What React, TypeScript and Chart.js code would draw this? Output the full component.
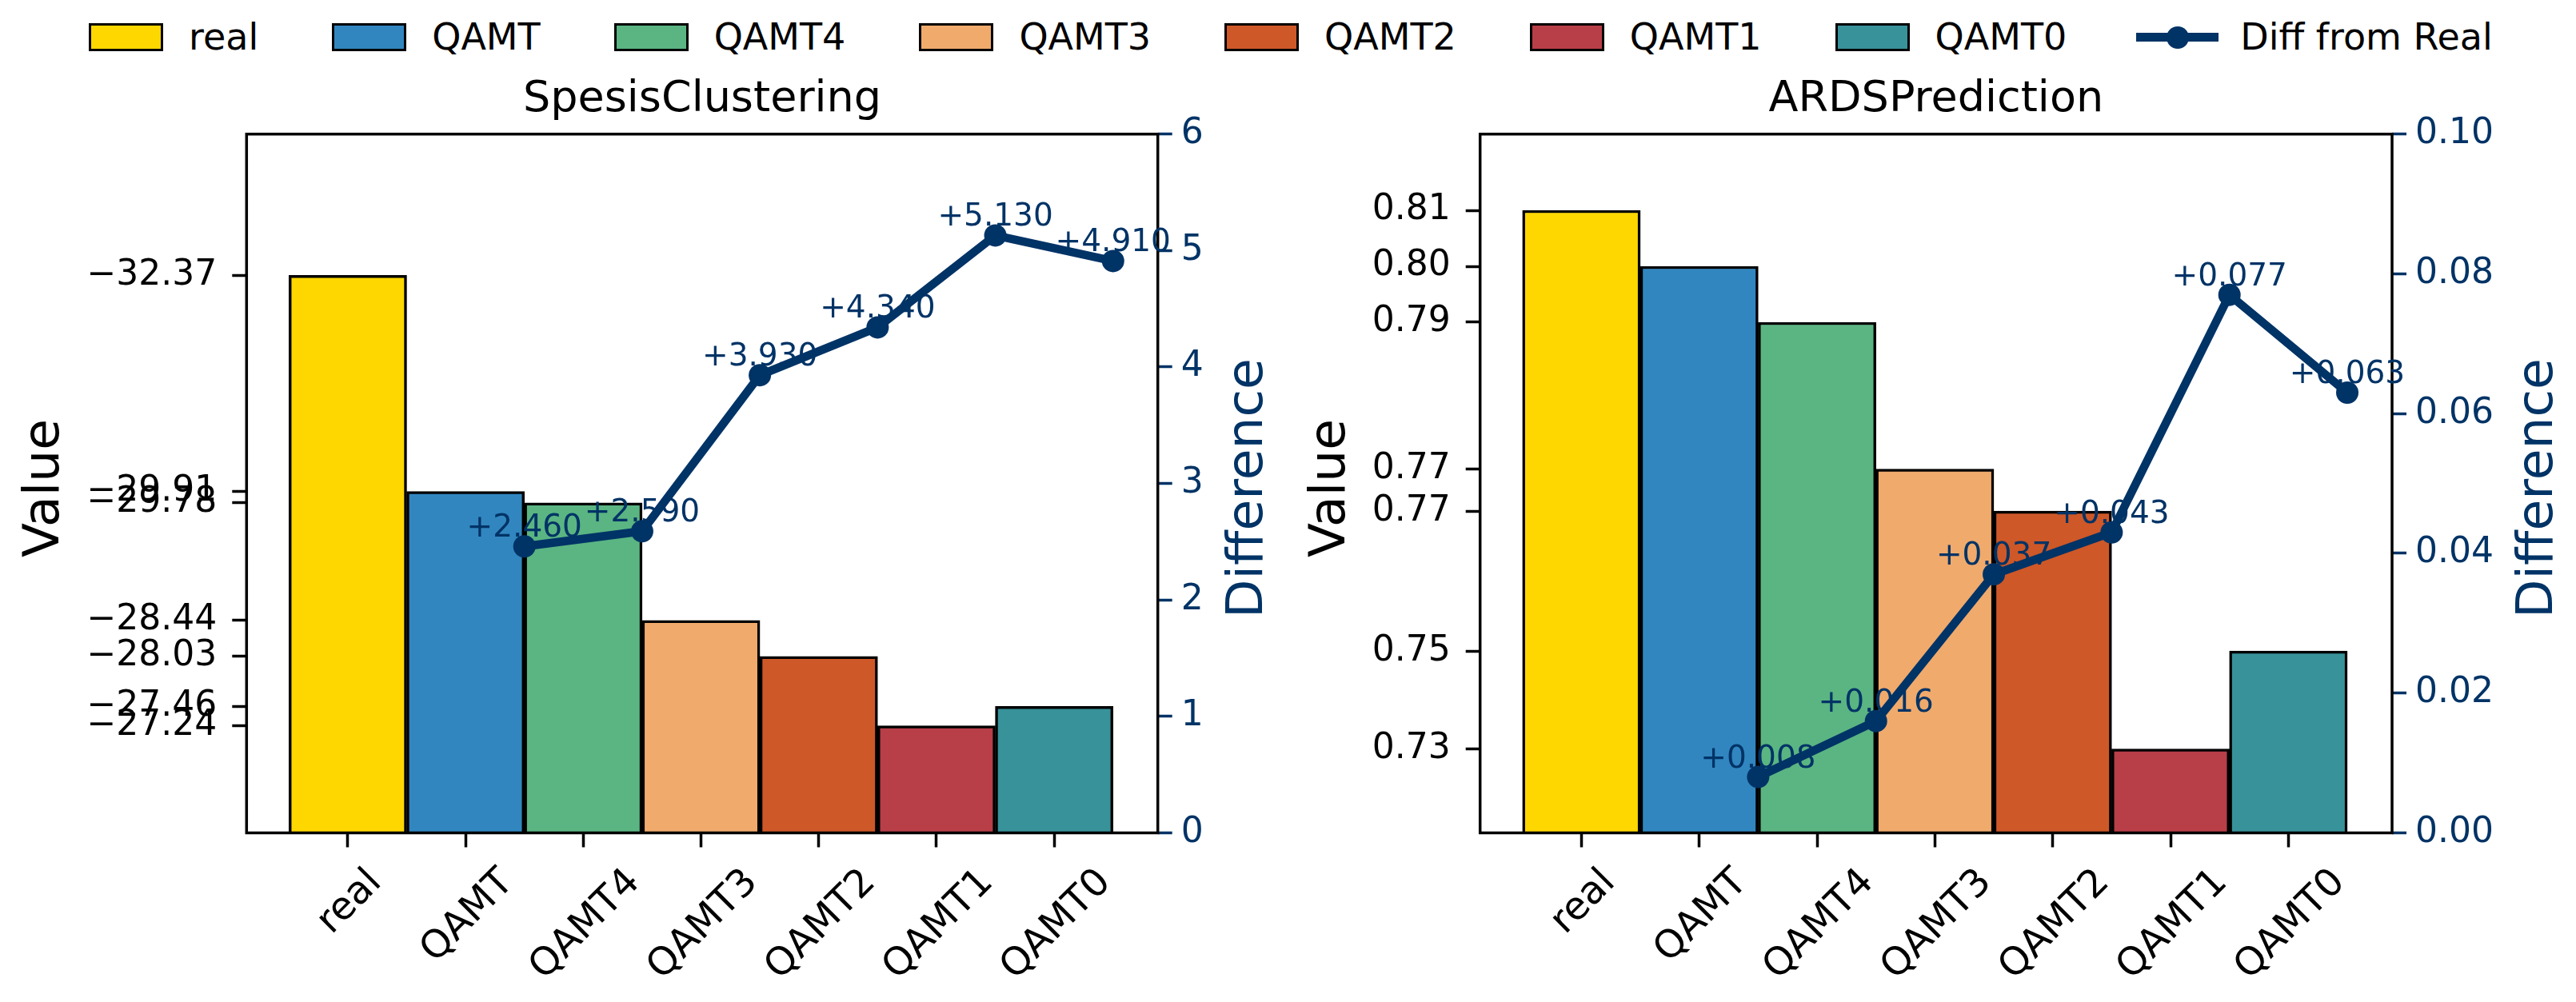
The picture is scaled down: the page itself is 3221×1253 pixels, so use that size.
import React, { useEffect, useRef } from "react";
import { Chart, registerables } from "chart.js";

Chart.register(...registerables);
Chart.defaults.font.family = "'DejaVu Sans', 'Noto Sans', sans-serif";

// ---------------- data ----------------
const categories = ["real", "QAMT", "QAMT4", "QAMT3", "QAMT2", "QAMT1", "QAMT0"];
const barColors = ["#FFD700", "#3186C0", "#5AB582", "#F0AA6C", "#CE5828", "#B83E48", "#38929A"];
const diffLabel = "Diff from Real";
const valueAxisTitle = "Value";
const diffAxisTitle = "Difference";

const sepsisTitle = "SpesisClustering";
const sepsisValues = [-32.37, -29.91, -29.78, -28.44, -28.03, -27.24, -27.46];
const sepsisDiffs = [2.46, 2.59, 3.93, 4.34, 5.13, 4.91];

const ardsTitle = "ARDSPrediction";
const ardsValues = [0.8095, 0.8015, 0.7935, 0.7725, 0.7665, 0.7325, 0.7465];
const ardsDiffs = [0.008, 0.016, 0.037, 0.043, 0.077, 0.063];

// ---------------- style ----------------
const NAVY = "#003366";
const FONT = "'DejaVu Sans', 'Noto Sans', sans-serif";
const FIG_H = 1253;
const TICK_LEN = 18;
const TICK_W = 3.5;
const TICK_FONT = 44;
const XTICK_FONT = 48;
const LEFT_PAD = 19;
const RIGHT_PAD = 11;

type PanelSpec = {
  title: string;
  values: number[];
  diffs: number[];
  reverse: boolean;
  vMin: number;
  vMax: number;
  dMax: number;
  dStep: number;
  dTickDecimals: number;
  labelDecimals: number;
  valueFmt: (v: number) => string;
  canvasWidth: number;
  areaLeft: number;
  areaRight: number;
};

const AREA_TOP = 167.7;
const AREA_BOTTOM = 1041.5;
const X_MIN = -0.86;
const X_MAX = 6.88;

const figureText = {
  id: "figureText",
  afterDatasetsDraw(chart: any, _args: any, opts: any) {
    const ctx = chart.ctx;
    const a = chart.chartArea;
    ctx.save();
    // frame (spines)
    ctx.strokeStyle = "#000";
    ctx.lineWidth = 3.5;
    ctx.strokeRect(a.left, a.top, a.right - a.left, a.bottom - a.top);
    // point annotations
    const meta = chart.getDatasetMeta(0);
    ctx.fillStyle = NAVY;
    ctx.font = `39px ${FONT}`;
    ctx.textAlign = "center";
    ctx.textBaseline = "alphabetic";
    meta.data.forEach((pt: any, i: number) => {
      const d = opts.diffs[i];
      ctx.fillText("+" + d.toFixed(opts.labelDecimals), pt.x, pt.y - 12);
    });
    ctx.restore();
  },
  afterDraw(chart: any, _args: any, opts: any) {
    const ctx = chart.ctx;
    const a = chart.chartArea;
    const midX = (a.left + a.right) / 2;
    const midY = (a.top + a.bottom) / 2;
    ctx.save();
    // title
    ctx.fillStyle = "#000";
    ctx.font = `54px ${FONT}`;
    ctx.textAlign = "center";
    ctx.textBaseline = "alphabetic";
    ctx.fillText(opts.title, midX, 139);

    // x tick labels, rotated 45 deg, centered on tick
    const fs = XTICK_FONT;
    ctx.font = `${fs}px ${FONT}`;
    const xs = chart.scales.x;
    const h = 1.164 * fs;
    categories.forEach((c, i) => {
      const px = xs.getPixelForValue(i);
      const w = ctx.measureText(c).width;
      const cy = a.bottom + TICK_LEN + 14 + ((w + h) * Math.SQRT1_2) / 2;
      ctx.save();
      ctx.translate(px, cy);
      ctx.rotate(-Math.PI / 4);
      ctx.textAlign = "center";
      ctx.fillText(c, 0, 0.346 * fs);
      ctx.restore();
    });

    // widest tick labels
    ctx.font = `${TICK_FONT}px ${FONT}`;
    const ys = chart.scales.y;
    const y2 = chart.scales.y2;
    let wl = 0;
    ys.ticks.forEach((t: any) => (wl = Math.max(wl, ctx.measureText(t.label).width)));
    let wr = 0;
    y2.ticks.forEach((t: any) => (wr = Math.max(wr, ctx.measureText(t.label).width)));

    // Value axis title
    ctx.font = `63px ${FONT}`;
    ctx.textAlign = "center";
    ctx.save();
    ctx.translate(a.left - TICK_LEN - LEFT_PAD - wl - 35, midY + 6);
    ctx.rotate(-Math.PI / 2);
    ctx.fillStyle = "#000";
    ctx.fillText(valueAxisTitle, 0, 0);
    ctx.restore();

    // Difference axis title
    ctx.save();
    ctx.translate(a.right + TICK_LEN + RIGHT_PAD + wr + 73, midY + 6);
    ctx.rotate(-Math.PI / 2);
    ctx.fillStyle = NAVY;
    ctx.fillText(diffAxisTitle, 0, 0);
    ctx.restore();

    ctx.restore();
  },
};

function buildConfig(p: PanelSpec): any {
  return {
    type: "bar",
    data: {
      datasets: [
        {
          type: "line",
          label: diffLabel,
          data: p.diffs.map((d, i) => ({ x: i + 1.5, y: d })),
          xAxisID: "x",
          yAxisID: "y2",
          borderColor: NAVY,
          backgroundColor: NAVY,
          borderWidth: 10.5,
          pointRadius: 14,
          pointHoverRadius: 14,
          pointBackgroundColor: NAVY,
          pointBorderWidth: 0,
          tension: 0,
          order: 0,
          clip: false,
        },
        {
          type: "bar",
          label: "values",
          data: p.values.map((v, i) => ({ x: i, y: v })),
          xAxisID: "x",
          yAxisID: "y",
          backgroundColor: barColors,
          borderColor: "#000",
          borderWidth: 3.5,
          barPercentage: 1,
          categoryPercentage: 1,
          order: 1,
          clip: 0,
        },
      ],
    },
    options: {
      responsive: false,
      animation: false,
      devicePixelRatio: 1,
      events: [],
      layout: { padding: { top: AREA_TOP, left: 0, right: 0, bottom: 0 } },
      plugins: {
        legend: { display: false },
        tooltip: { enabled: false },
        title: { display: false },
        figureText: {
          title: p.title,
          diffs: p.diffs,
          labelDecimals: p.labelDecimals,
        },
      },
      scales: {
        x: {
          type: "linear",
          position: "bottom",
          min: X_MIN,
          max: X_MAX,
          offset: false,
          afterBuildTicks: (s: any) => {
            s.ticks = categories.map((_, i) => ({ value: i }));
          },
          ticks: { display: false },
          grid: {
            offset: false,
            drawOnChartArea: false,
            drawTicks: true,
            tickLength: TICK_LEN,
            tickWidth: TICK_W,
            tickColor: "#000",
          },
          border: { display: false },
          afterFit: (s: any) => {
            s.height = FIG_H - AREA_BOTTOM;
          },
        },
        y: {
          type: "linear",
          position: "left",
          reverse: p.reverse,
          beginAtZero: false,
          min: p.vMin,
          max: p.vMax,
          afterBuildTicks: (s: any) => {
            s.ticks = [...p.values].sort((a, b) => a - b).map((v) => ({ value: v }));
          },
          ticks: {
            autoSkip: false,
            color: "#000",
            font: { size: TICK_FONT, family: FONT },
            padding: LEFT_PAD,
            callback: (v: any) => p.valueFmt(Number(v)),
          },
          grid: {
            drawOnChartArea: false,
            drawTicks: true,
            tickLength: TICK_LEN,
            tickWidth: TICK_W,
            tickColor: "#000",
          },
          border: { display: false },
          afterFit: (s: any) => {
            s.width = p.areaLeft;
          },
        },
        y2: {
          type: "linear",
          position: "right",
          beginAtZero: false,
          min: 0,
          max: p.dMax,
          ticks: {
            stepSize: p.dStep,
            autoSkip: false,
            color: NAVY,
            font: { size: TICK_FONT, family: FONT },
            padding: RIGHT_PAD,
            callback: (v: any) => Number(v).toFixed(p.dTickDecimals),
          },
          grid: {
            drawOnChartArea: false,
            drawTicks: true,
            tickLength: TICK_LEN,
            tickWidth: TICK_W,
            tickColor: NAVY,
          },
          border: { display: false },
          afterFit: (s: any) => {
            s.width = p.canvasWidth - p.areaRight;
          },
        },
      },
    },
    plugins: [figureText],
  };
}

const sepsisSpec: PanelSpec = {
  title: sepsisTitle,
  values: sepsisValues,
  diffs: sepsisDiffs,
  reverse: true,
  vMin: -33.98,
  vMax: -26.02,
  dMax: 6,
  dStep: 1,
  dTickDecimals: 0,
  labelDecimals: 3,
  valueFmt: (v) => (v < 0 ? "\u2212" : "") + Math.abs(v).toFixed(2),
  canvasWidth: 1610,
  areaLeft: 308.3,
  areaRight: 1447.7,
};

const ardsSpec: PanelSpec = {
  title: ardsTitle,
  values: ardsValues,
  diffs: ardsDiffs,
  reverse: false,
  vMin: 0.7205,
  vMax: 0.8204,
  dMax: 0.1,
  dStep: 0.02,
  dTickDecimals: 2,
  labelDecimals: 3,
  valueFmt: (v) => v.toFixed(2),
  canvasWidth: 1611,
  areaLeft: 240.7,
  areaRight: 1381,
};

function Panel({ spec, left }: { spec: PanelSpec; left: number }) {
  const ref = useRef<HTMLCanvasElement>(null);
  useEffect(() => {
    const chart = new Chart(ref.current as HTMLCanvasElement, buildConfig(spec));
    return () => chart.destroy();
  }, [spec]);
  return (
    <canvas
      ref={ref}
      width={spec.canvasWidth}
      height={FIG_H}
      style={{ position: "absolute", left, top: 0, width: spec.canvasWidth, height: FIG_H }}
    />
  );
}

function Legend() {
  const textStyle: React.CSSProperties = { marginLeft: 32, lineHeight: "35px" };
  return (
    <div
      style={{
        position: "absolute",
        left: 111,
        top: 29,
        height: 35,
        display: "flex",
        alignItems: "center",
        fontFamily: FONT,
        fontSize: 46,
        color: "#000",
        whiteSpace: "nowrap",
      }}
    >
      {categories.map((c, i) => (
        <div key={c} style={{ display: "flex", alignItems: "center", marginRight: 92 }}>
          <div
            style={{
              width: 93,
              height: 35,
              boxSizing: "border-box",
              border: "3.5px solid #000",
              background: barColors[i],
            }}
          />
          <span style={textStyle}>{c}</span>
        </div>
      ))}
      <div style={{ display: "flex", alignItems: "center" }}>
        <div style={{ position: "relative", width: 93, height: 35 }}>
          <div
            style={{ position: "absolute", left: -5, right: -5, top: 12.25, height: 10.5, background: NAVY }}
          />
          <div
            style={{
              position: "absolute",
              left: 46.5 - 14,
              top: 17.5 - 14,
              width: 28,
              height: 28,
              borderRadius: "50%",
              background: NAVY,
            }}
          />
        </div>
        <span style={textStyle}>{diffLabel}</span>
      </div>
    </div>
  );
}

export default function App() {
  return (
    <div
      style={{
        position: "fixed",
        left: 0,
        top: 0,
        width: 3221,
        height: FIG_H,
        background: "#fff",
        overflow: "hidden",
      }}
    >
      <Legend />
      <Panel spec={sepsisSpec} left={0} />
      <Panel spec={ardsSpec} left={1610} />
    </div>
  );
}
